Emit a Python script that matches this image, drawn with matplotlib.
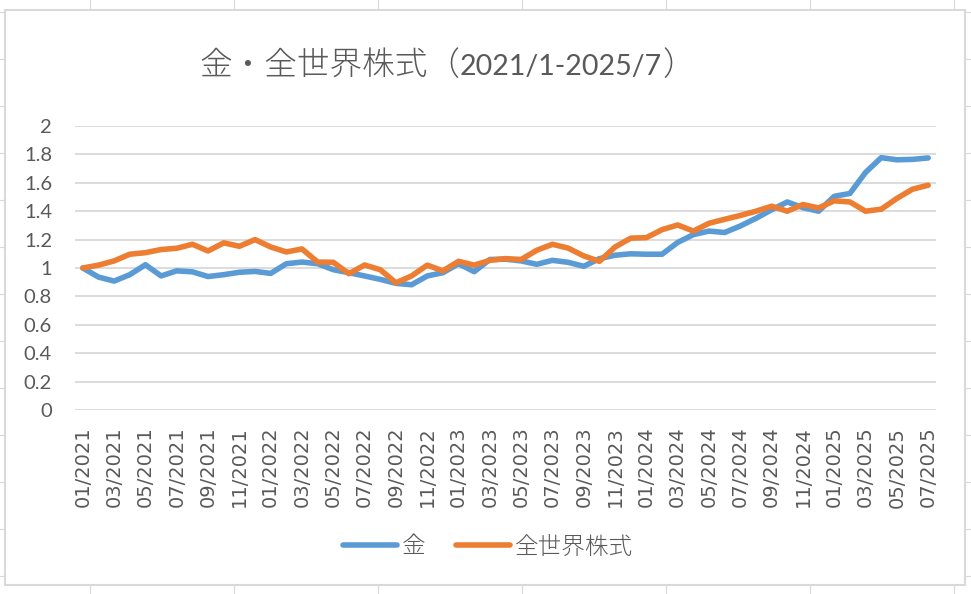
import matplotlib
matplotlib.use("Agg")
import matplotlib.pyplot as plt
from matplotlib.lines import Line2D
from matplotlib.patches import Rectangle

# monthly index, 01/2021 = 1.0
months = [f"{m:02d}/{y}" for y in range(2021, 2026) for m in range(1, 13)][:55]

gold = [1.00, 0.936, 0.908, 0.953, 1.023, 0.944, 0.98, 0.973, 0.94, 0.953,
        0.97, 0.976, 0.962, 1.03, 1.042, 1.03, 0.988, 0.967, 0.944, 0.92,
        0.892, 0.882, 0.944, 0.967, 1.03, 0.974, 1.06, 1.062,
        1.05, 1.026, 1.054, 1.04, 1.012, 1.066, 1.09, 1.10, 1.097, 1.097,
        1.18, 1.235, 1.26, 1.25, 1.296, 1.35, 1.41, 1.465, 1.425, 1.40,
        1.505, 1.525, 1.673, 1.777, 1.762, 1.765, 1.775]

world = [1.00, 1.02, 1.05, 1.097, 1.108, 1.13, 1.139, 1.167, 1.12, 1.177,
         1.153, 1.20, 1.148, 1.113, 1.134, 1.042, 1.04, 0.96, 1.021, 0.988,
         0.896, 0.944, 1.02, 0.98, 1.047, 1.02, 1.054, 1.066,
         1.06, 1.125, 1.167, 1.14, 1.085, 1.047, 1.148, 1.21, 1.214, 1.27,
         1.303, 1.26, 1.315, 1.343, 1.37, 1.40, 1.435, 1.40, 1.447, 1.423,
         1.473, 1.465, 1.40, 1.414, 1.49, 1.555, 1.583]

series_names = ["金", "全世界株式"]
# title in three pieces: CJK part, period, closing bracket
title_parts = ["金・全世界株式（", "2021/1-2025/7", "）"]

W, H = 971, 594
fig = plt.figure(figsize=(W / 100, H / 100), dpi=100)
fig.patch.set_facecolor("white")

# spreadsheet cell grid behind the chart
for gx in range(90, W, 144):
    fig.add_artist(Line2D([gx / W, gx / W], [0, 1], color="#d9d9d9", lw=0.8, zorder=-3))
for gy in range(12, H, 47):
    fig.add_artist(Line2D([0, 1], [1 - gy / H, 1 - gy / H], color="#d9d9d9", lw=0.8, zorder=-3))
# chart area
fig.add_artist(Rectangle((5 / W, 1 - 585 / H), 960 / W, 575 / H, facecolor="white",
                         edgecolor="#d9d9d9", lw=1.5, zorder=-1))

ax = fig.add_axes([75 / W, 1 - 410 / H, 861 / W, 284 / H])
ax.patch.set_alpha(0)

x = list(range(len(months)))
ax.plot(x, gold, color="#5B9BD5", lw=4, solid_joinstyle="round", solid_capstyle="round", label=series_names[0])
ax.plot(x, world, color="#ED7D31", lw=4, solid_joinstyle="round", solid_capstyle="round", label=series_names[1])

ax.set_xlim(-0.5, len(months) - 0.5)
ax.set_ylim(0, 2)
yt = [i / 5 for i in range(11)]
ax.set_yticks(yt)
ax.set_yticklabels([f"{v:g}" for v in yt], fontsize=14.5, color="#595959", family=["Lato", "DejaVu Sans"])
ax.set_xticks(x[::2])
ax.set_xticklabels(months[::2], rotation=90, fontsize=14, color="#595959", family="DejaVu Sans")
ax.tick_params(axis="both", length=0)
ax.tick_params(axis="x", pad=12)
ax.tick_params(axis="y", pad=16.5)
ax.grid(axis="y", color="#d9d9d9", lw=1.3)
ax.set_axisbelow(True)
for s in ax.spines.values():
    s.set_visible(False)

fig.legend(loc="center", bbox_to_anchor=(488 / W, 1 - 547 / H), ncol=2, frameon=False,
           prop={"family": ["Noto Sans CJK JP"], "size": 17, "weight": "light"}, labelcolor="#595959",
           handlelength=2.3, handletextpad=0.2, columnspacing=1.3)

# title pieces laid out one after another on a common baseline
base_y = 1 - 75 / H
styles = [dict(family="Noto Sans CJK JP", weight="light", size=23.5),
          dict(family="Lato", weight="normal", size=20.5),
          dict(family="Noto Sans CJK JP", weight="light", size=23.5)]
cur_x = 199
fig.canvas.draw()
renderer = fig.canvas.get_renderer()
for part, st in zip(title_parts, styles):
    t = fig.text(cur_x / W, base_y, part, color="#595959", ha="left", va="baseline",
                 family=st["family"], fontweight=st["weight"], fontsize=st["size"])
    bb = t.get_window_extent(renderer)
    cur_x = bb.x1

fig.savefig("out.png", dpi=100)
